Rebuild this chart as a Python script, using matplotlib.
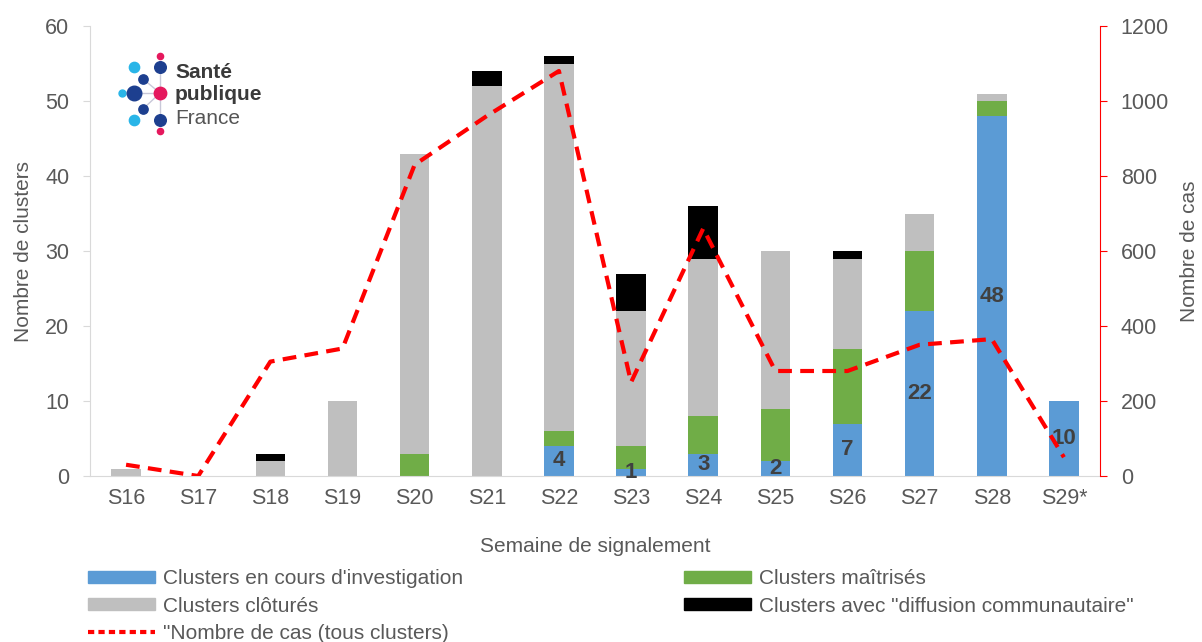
import matplotlib.pyplot as plt
from matplotlib.patches import Patch
from matplotlib.lines import Line2D

plt.rcParams['font.family'] = ['Liberation Sans', 'DejaVu Sans']

weeks = ["S16", "S17", "S18", "S19", "S20", "S21", "S22", "S23", "S24", "S25", "S26", "S27", "S28", "S29*"]
en_cours = [0, 0, 0, 0, 0, 0, 4, 1, 3, 2, 7, 22, 48, 10]
maitrises = [0, 0, 0, 0, 3, 0, 2, 3, 5, 7, 10, 8, 2, 0]
clotures = [1, 0, 2, 10, 40, 52, 49, 18, 21, 21, 12, 5, 1, 0]
diffusion = [0, 0, 1, 0, 0, 2, 1, 5, 7, 0, 1, 0, 0, 0]
nb_cas = [30, 0, 305, 340, 830, 960, 1080, 250, 660, 280, 280, 350, 365, 50]

c_blue = "#5b9bd5"
c_green = "#70ad47"
c_gray = "#bfbfbf"
c_black = "#000000"
txt = "#595959"

fig = plt.figure(figsize=(12.02, 6.42), dpi=100)
ax = fig.add_axes([90 / 1202, 1 - 476 / 642, 1010 / 1202, 450 / 642])
x = list(range(len(weeks)))
w = 0.41

# stacked bars
ax.bar(x, en_cours, w, color=c_blue)
bot = list(en_cours)
ax.bar(x, maitrises, w, bottom=bot, color=c_green)
bot = [a + b for a, b in zip(bot, maitrises)]
ax.bar(x, clotures, w, bottom=bot, color=c_gray)
bot = [a + b for a, b in zip(bot, clotures)]
ax.bar(x, diffusion, w, bottom=bot, color=c_black)

# labels in blue part
for i, v in enumerate(en_cours):
    if v > 0:
        ax.text(i, v / 2, str(v), ha="center", va="center", fontsize=16,
                fontweight="bold", color="#404040")

ax.set_xlim(-0.5, len(weeks) - 0.5)
ax.set_ylim(0, 60)
ax.set_yticks(range(0, 61, 10))
ax.set_xticks(x)
ax.set_xticklabels(weeks)
ax.tick_params(axis="x", length=0, labelsize=15.5, colors=txt, pad=9)
ax.tick_params(axis="y", labelsize=15.5, colors=txt, length=5, color="#d9d9d9", pad=10)
for s in ["top", "right"]:
    ax.spines[s].set_visible(False)
ax.spines["left"].set_color("#d9d9d9")
ax.spines["bottom"].set_color("#d9d9d9")
ax.set_ylabel("Nombre de clusters", fontsize=15, color=txt, labelpad=9)
ax.set_xlabel("Semaine de signalement", fontsize=15, color=txt, labelpad=20)

# cases line on right axis
ax2 = ax.twinx()
ax2.plot(x, nb_cas, color="#ff0000", lw=3, linestyle=(0, (3.3, 2)))
ax2.set_ylim(0, 1200)
ax2.set_yticks(range(0, 1201, 200))
for s in ["top", "left", "bottom"]:
    ax2.spines[s].set_visible(False)
ax2.spines["right"].set_color("#ff0000")
ax2.tick_params(axis="y", labelsize=15.5, labelcolor=txt, color="#ff0000", length=5, pad=10)
ax2.set_ylabel("Nombre de cas", fontsize=15, color=txt, labelpad=8)

# legend
handles = [
    Patch(color=c_blue), Patch(color=c_gray),
    Line2D([0], [0], color="#ff0000", lw=3, linestyle=(0, (1.5, 1))),
    Patch(color=c_green), Patch(color=c_black),
]
labels = ["Clusters en cours d'investigation", "Clusters clôturés",
          "\"Nombre de cas (tous clusters)", "Clusters maîtrisés",
          "Clusters avec \"diffusion communautaire\""]
leg = fig.legend(handles, labels, ncol=2, loc="upper left",
                 bbox_to_anchor=(82 / 1202, 1 - 563 / 642), frameon=False,
                 fontsize=15, handlelength=3.2, handleheight=0.5,
                 handletextpad=0.4, columnspacing=10.6, labelspacing=0.4,
                 borderaxespad=0, borderpad=0.3)
for t in leg.get_texts():
    t.set_color(txt)

# logo
lg = fig.add_axes([0, 0, 1, 1])
lg.set_xlim(0, 1202)
lg.set_ylim(642, 0)
lg.axis("off")
lg.patch.set_alpha(0)
for (x0, y0) in [(134, 93), (143, 79), (143, 109)]:
    lg.plot([160, x0], [93, y0], color="#c8c8d8", lw=1)
lg.plot([160, 160], [67, 120], color="#c8c8d8", lw=1)
navy = "#1d3f8f"
lblue = "#29b5e8"
pink = "#e5185d"
dots = [(160, 56, pink, 20), (160, 67, navy, 70), (134, 67, lblue, 55),
        (143, 79, navy, 45), (122, 93, lblue, 25), (134, 93, navy, 110),
        (160, 93, pink, 80), (143, 109, navy, 45), (134, 120, lblue, 55),
        (160, 120, navy, 70), (160, 131, pink, 20)]
for (px, py, c, s) in dots:
    lg.scatter(px, py, s=s, color=c, zorder=3)
lg.text(175, 72, "Santé", fontsize=15, fontweight="bold", color="#3a3a3a", va="center")
lg.text(175, 95, "publique", fontsize=15, fontweight="bold", color="#3a3a3a", va="center")
lg.text(175, 118, "France", fontsize=15, color="#555555", va="center")

fig.savefig("out.png", dpi=100)
